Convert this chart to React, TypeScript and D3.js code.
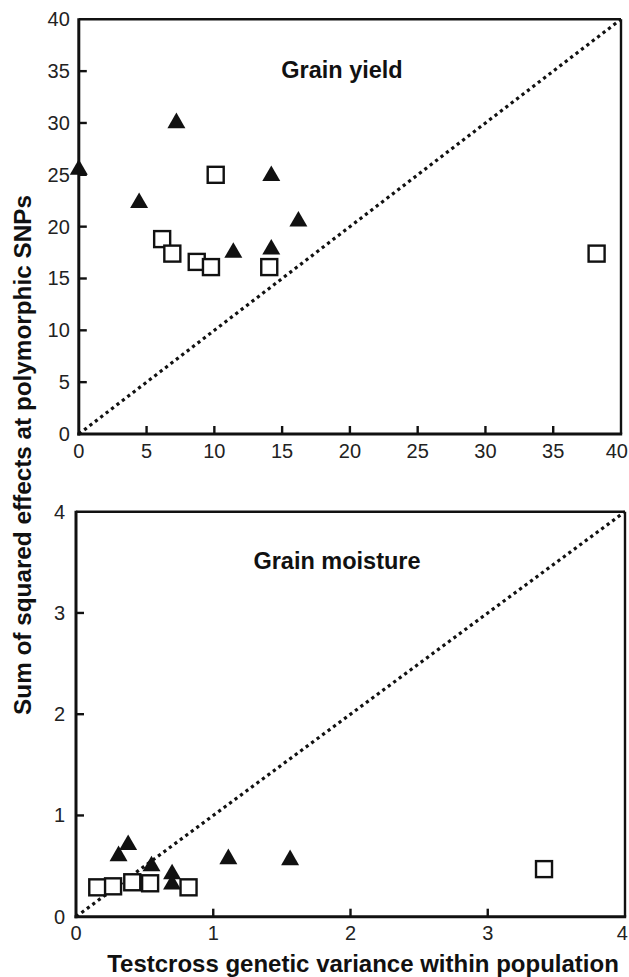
import React from "react";
import * as d3 from "d3";

const yieldTriX = [0, 4.45, 7.2, 14.2, 16.2, 11.4, 14.2];
const yieldTriY = [25.6, 22.4, 30.1, 25.0, 20.6, 17.6, 17.9];
const yieldSqX = [10.1, 6.15, 6.9, 8.7, 9.75, 14.05, 38.2];
const yieldSqY = [25.0, 18.8, 17.4, 16.6, 16.1, 16.1, 17.4];

const moistTriX = [0.31, 0.38, 0.55, 0.7, 0.7, 1.11, 1.56];
const moistTriY = [0.61, 0.72, 0.51, 0.43, 0.33, 0.58, 0.57];
const moistSqX = [0.155, 0.27, 0.41, 0.54, 0.82, 3.41];
const moistSqY = [0.29, 0.3, 0.34, 0.33, 0.29, 0.47];

const yieldTicks = [0, 5, 10, 15, 20, 25, 30, 35, 40];
const moistTicks = [0, 1, 2, 3, 4];

const FONT = "'Liberation Sans', Arial, Helvetica, sans-serif";
const W = 629;

type PanelProps = {
  x0: number; x1: number; y0: number; y1: number;
  max: number; ticks: number[]; title: string; titleX: number; titleY: number;
  triX: number[]; triY: number[]; sqX: number[]; sqY: number[];
  xLabelY: number; yLabelGap: number;
};

function Panel(p: PanelProps) {
  const x = d3.scaleLinear().domain([0, p.max]).range([p.x0, p.x1]);
  const y = d3.scaleLinear().domain([0, p.max]).range([p.y1, p.y0]);
  const tri = d3.symbol().type(d3.symbolTriangle).size(140);
  const diag = d3.line<number>().x((v) => x(v)).y((v) => y(v));
  const tl = 8;
  return (
    <g>
      <path d={diag([0, p.max]) || ""} stroke="#111" strokeWidth={3.2} strokeDasharray="3.2,3.6" fill="none" />
      {p.sqX.map((v, i) => (
        <rect key={"s" + i} x={x(v) - 8} y={y(p.sqY[i]) - 8} width={16} height={16} fill="white" stroke="#111" strokeWidth={2.4} />
      ))}
      {p.triX.map((v, i) => (
        <path key={"t" + i} d={tri() || ""} transform={`translate(${x(v)},${y(p.triY[i]) + 1})`} fill="#111" />
      ))}
      <line x1={p.x0} y1={p.y0} x2={p.x1} y2={p.y0} stroke="#111" strokeWidth={2.4} />
      <line x1={p.x1} y1={p.y0} x2={p.x1} y2={p.y1} stroke="#111" strokeWidth={2.4} />
      <line x1={p.x0} y1={p.y0 - 1} x2={p.x0} y2={p.y1 + 1.5} stroke="#111" strokeWidth={3} />
      <line x1={p.x0 - 1.5} y1={p.y1} x2={p.x1 + 1.2} y2={p.y1} stroke="#111" strokeWidth={3} />
      {p.ticks.map((t) => {
        const label = String(t);
        const half = label.length * 5.6;
        const cx = Math.min(x(t), W - 1 - half);
        return (
          <g key={"x" + t}>
            {t > 0 && t < p.max && <line x1={x(t)} x2={x(t)} y1={p.y1} y2={p.y1 - tl} stroke="#111" strokeWidth={2.4} />}
            <text x={cx} y={p.xLabelY} textAnchor="middle" fontFamily={FONT} fontSize={20} fill="#222">{label}</text>
          </g>
        );
      })}
      {p.ticks.map((t) => (
        <g key={"y" + t}>
          {t > 0 && t < p.max && <line x1={p.x0} x2={p.x0 + tl} y1={y(t)} y2={y(t)} stroke="#111" strokeWidth={2.4} />}
          <text x={p.x0 - p.yLabelGap} y={y(t) + 7} textAnchor="end" fontFamily={FONT} fontSize={20} fill="#222">{t}</text>
        </g>
      ))}
      <text x={p.titleX} y={p.titleY} textAnchor="middle" fontFamily={FONT} fontWeight="bold" fontSize={23.5} fill="#111">{p.title}</text>
    </g>
  );
}

export default function App() {
  return (
    <svg width={629} height={977} style={{ position: "absolute", left: 0, top: 0, background: "white" }}>
      <rect width={629} height={977} fill="white" />
      <Panel x0={78.8} x1={621} y0={19.3} y1={434} max={40} ticks={yieldTicks} title="Grain yield"
        titleX={342} titleY={78} triX={yieldTriX} triY={yieldTriY} sqX={yieldSqX} sqY={yieldSqY} xLabelY={458} yLabelGap={9} />
      <Panel x0={76} x1={625} y0={511.7} y1={916.7} max={4} ticks={moistTicks} title="Grain moisture"
        titleX={337} titleY={569} triX={moistTriX} triY={moistTriY} sqX={moistSqX} sqY={moistSqY} xLabelY={940} yLabelGap={11} />
      <text transform="translate(31,455) rotate(-90)" textAnchor="middle" fontFamily={FONT} fontWeight="bold" fontSize={24.3} fill="#111">
        Sum of squared effects at polymorphic SNPs
      </text>
      <text x={363} y={972} textAnchor="middle" fontFamily={FONT} fontWeight="bold" fontSize={24} fill="#111">
        Testcross genetic variance within population
      </text>
    </svg>
  );
}
